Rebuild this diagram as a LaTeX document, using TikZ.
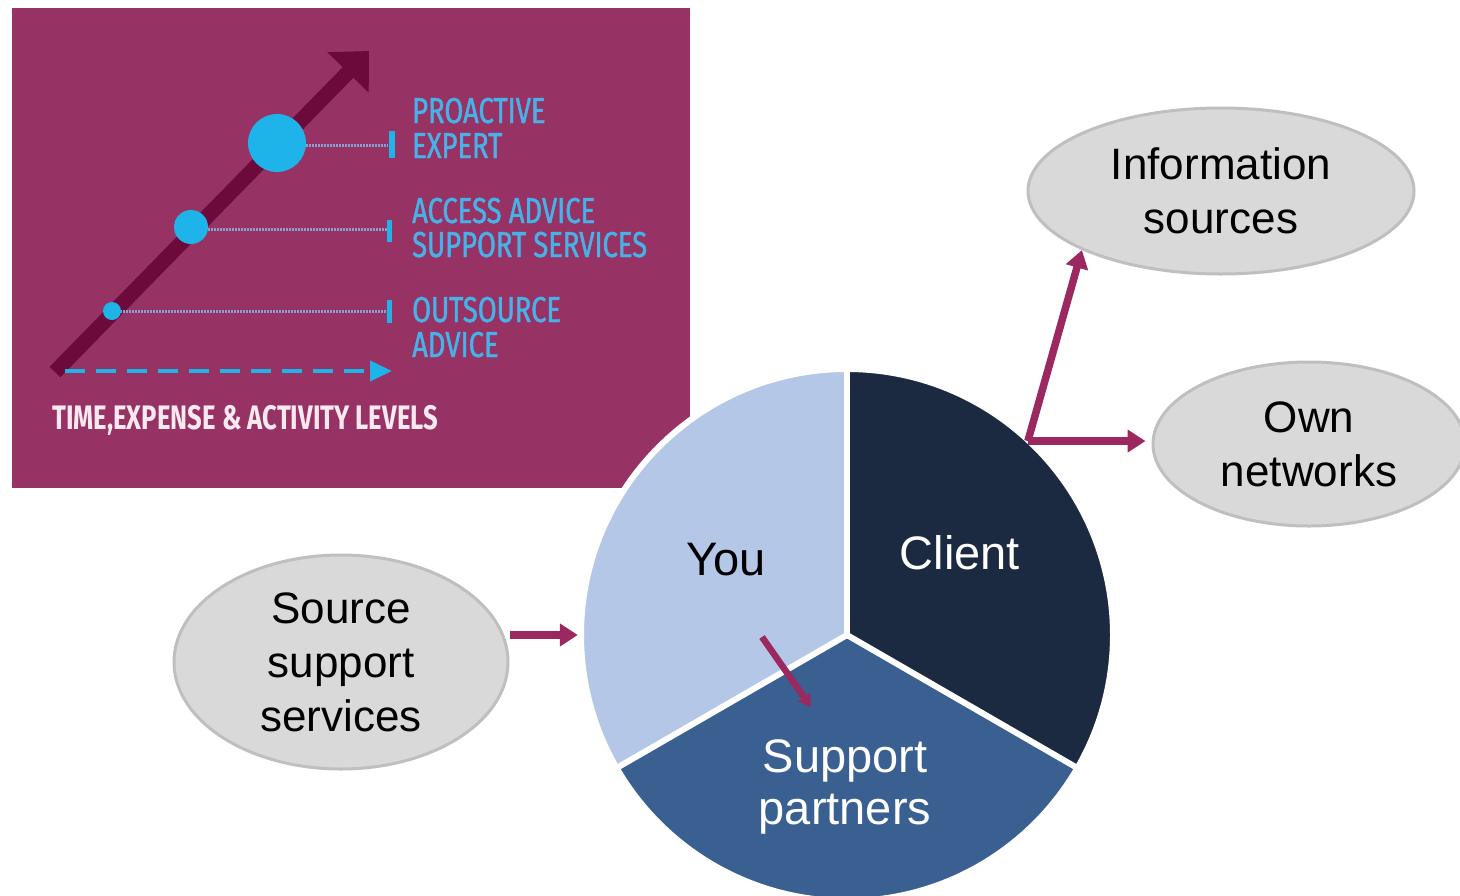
\documentclass[tikz,border=0pt]{standalone}
\usepackage{fontspec}
\setmainfont{Liberation Sans}
\newfontfamily\condfont[FakeStretch=0.76,FakeBold=1.2]{Fira Sans}
\newfontfamily\condboldfont[FakeStretch=0.755]{Fira Sans}
\usetikzlibrary{arrows.meta,shapes.geometric}

\definecolor{panelbg}{RGB}{150,50,100}
\definecolor{trendc}{RGB}{108,10,60}
\definecolor{dotblue}{RGB}{30,180,234}
\definecolor{labelblue}{RGB}{70,178,232}
\definecolor{leaderc}{RGB}{135,160,205}
\definecolor{axislabel}{RGB}{248,232,240}
\definecolor{youc}{RGB}{180,199,231}
\definecolor{clientc}{RGB}{27,42,65}
\definecolor{partnerc}{RGB}{58,95,145}
\definecolor{ellfill}{RGB}{217,217,217}
\definecolor{ellline}{RGB}{191,191,191}
\definecolor{linkc}{RGB}{155,40,95}

\begin{document}
\begin{tikzpicture}[x=1pt,y=-1pt,
  paneltext/.style={anchor=base west, inner sep=0pt, text=labelblue,
    font=\condfont\fontsize{36}{40}\selectfont},
  leader/.style={draw=leaderc, line width=3pt, dash pattern=on 1.5pt off 1.5pt},
  ell/.style={ellipse, draw=ellline, line width=3pt, fill=ellfill, inner sep=0pt,
    align=center, font=\fontsize{44}{54}\selectfont},
  slicetext/.style={align=center, inner sep=0pt, font=\fontsize{47}{52}\selectfont},
  conn/.style={draw=linkc, line width=7.5pt, -{Triangle[length=18pt,width=22pt]}},
  sep/.style={draw=white, line width=6pt}
]
\useasboundingbox (0,0) rectangle (1460,895);
\fill[white] (0,0) rectangle (1460,895);

% ---- service level panel ----
\fill[panelbg] (12,8) rectangle (690,488);
\draw[draw=trendc, line width=15pt, -{Triangle[length=30pt,width=56pt]}] (55,372) -- (369,51);

\draw[leader] (300,145) -- (388,145);
\draw[leader] (205,229) -- (388,229);
\draw[leader] (120,311) -- (388,311);
\fill[dotblue] (277,143) circle (29);
\fill[dotblue] (191,227) circle (17);
\fill[dotblue] (112,311) circle (9);
\fill[dotblue] (389,131) rectangle (395,158);
\fill[dotblue] (387,220) rectangle (392,242);
\fill[dotblue] (387,300) rectangle (392,323);

\node[paneltext] (l1a) at (412,123) {PROACTIVE};
\node[paneltext] (l1b) at (412,158) {EXPERT};
\node[paneltext] (l2a) at (412,223) {ACCESS ADVICE};
\node[paneltext] (l2b) at (412,257) {SUPPORT SERVICES};
\node[paneltext] (l3a) at (412,322) {OUTSOURCE};
\node[paneltext] (l3b) at (412,357) {ADVICE};

\draw[draw=dotblue, line width=4pt, dash pattern=on 20pt off 11pt,
  -{Triangle[length=22pt,width=20pt]}] (65,371) -- (392,371);
\node[anchor=base west, inner sep=0pt, text=axislabel,
  font=\condboldfont\bfseries\fontsize{34}{38}\selectfont] (axis) at (52,429)
  {TIME,EXPENSE \& ACTIVITY LEVELS};

% ---- pie of the three parties ----
\coordinate (pc) at (847,635);
\node[circle, minimum size=530pt, inner sep=0pt] (pie) at (pc) {};
\fill[youc] (pc) -- ++(-90:265) arc[start angle=-90, end angle=-210, radius=265] -- cycle;
\fill[clientc] (pc) -- ++(30:265) arc[start angle=30, end angle=-90, radius=265] -- cycle;
\fill[partnerc] (pc) -- ++(-210:265) arc[start angle=-210, end angle=-330, radius=265] -- cycle;
\draw[sep] (pc) circle (266);
\draw[sep] (pc) -- ++(-90:268);
\draw[sep] (pc) -- ++(-210:268);
\draw[sep] (pc) -- ++(30:268);

\node[slicetext, text=black] (you) at (726,560) {You};
\node[slicetext, text=white] (client) at (960,553) {Client};
\node[slicetext, text=white] (partners) at (845,787) {Support\\partners};

\coordinate (youtail) at (762,637);
\coordinate (parthead) at (811,707);
\draw[draw=linkc, line width=6.5pt, -{Triangle[length=12pt,width=14pt]}] (youtail) -- (parthead);

% ---- surrounding resources ----
\node[ell, minimum width=386pt, minimum height=166pt] (info) at (1221,191) {Information\\sources};
\node[ell, minimum width=312pt, minimum height=164pt] (own) at (1309,444) {Own\\networks};
\node[ell, minimum width=334pt, minimum height=214pt] (source) at (341,662) {Source\\support\\services};

\coordinate (fork) at (pie.47);
\draw[conn] (fork) -- (info.203);
\draw[conn, shorten >=6pt] (fork) -- (fork -| own.west);
\draw[conn, shorten >=4pt] (source.east |- pie.west) -- (pie.west);
\end{tikzpicture}
\end{document}
